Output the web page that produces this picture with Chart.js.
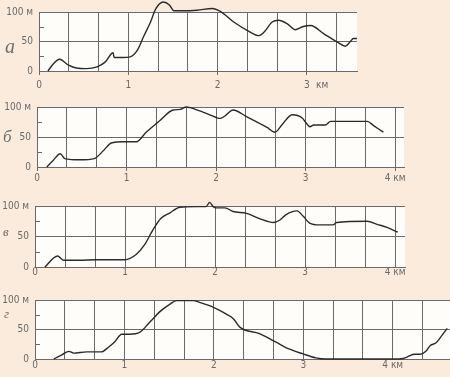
<!DOCTYPE html>
<html><head><meta charset="utf-8">
<script src="https://cdn.jsdelivr.net/npm/chart.js@4.4.1/dist/chart.umd.min.js"></script>
<style>
html,body{margin:0;padding:0;background:#fbebdd;}
#wrap{position:relative;width:450px;height:377px;overflow:hidden;background:#fbebdd;}
canvas{position:absolute;left:0;}
.lbl{position:absolute;font-family:"Liberation Serif","DejaVu Serif",serif;font-style:italic;color:#707070;line-height:1;}
</style></head><body>
<div id="wrap">
<canvas id="ca" width="450" height="95" style="top:0px"></canvas>
<canvas id="cb" width="450" height="95" style="top:95px"></canvas>
<canvas id="cc" width="450" height="95" style="top:190px"></canvas>
<canvas id="cd" width="450" height="92" style="top:285px"></canvas>
<div class="lbl" style="left:5px;top:36px;font-size:20px">а</div>
<div class="lbl" style="left:3px;top:128px;font-size:17px">б</div>
<div class="lbl" style="left:3px;top:225px;font-size:13px">в</div>
<div class="lbl" style="left:4px;top:307px;font-size:13px">г</div>
</div>
<script>
// ---- data: distance (km) and elevation (m) for each profile ----
const distA = [0.10,0.16,0.23,0.33,0.42,0.53,0.65,0.74,0.83,0.84,0.93,1.02,1.10,1.17,1.24,1.31,1.39,1.46,1.51,1.61,1.77,1.94,2.03,2.18,2.33,2.46,2.52,2.61,2.68,2.78,2.87,2.95,3.04,3.19,3.34,3.43,3.48,3.52,3.56];
const elevA = [0,12,20,10,5,4,7,15,31,23,23,24,35,58,80,106,117,112,102,102,103,106,101,83,69,60,66,83,86,80,70,75,77,63,49,42,49,55,55];

const distB = [0.11,0.18,0.26,0.31,0.48,0.64,0.74,0.83,0.96,1.11,1.22,1.37,1.52,1.60,1.67,1.71,1.86,1.93,2.01,2.05,2.10,2.19,2.34,2.57,2.66,2.74,2.85,2.96,3.02,3.05,3.09,3.22,3.28,3.69,3.76,3.87];
const elevB = [0,11,22,14,12,14,27,40,42,42,58,77,95,96,100,99,91,87,82,81,85,95,84,66,58,71,87,82,71,67,70,70,76,76,69,58];

const distC = [0.11,0.25,0.32,0.49,0.68,0.86,1.00,1.12,1.22,1.31,1.40,1.49,1.61,1.79,1.90,1.94,1.98,2.01,2.11,2.20,2.35,2.50,2.65,2.72,2.79,2.91,2.98,3.05,3.16,3.31,3.35,3.69,3.80,3.91,4.03];
const elevC = [0,18,11,11,12,12,12,20,37,61,80,88,98,99,99,106,99,97,97,91,88,79,73,77,86,92,83,72,69,69,73,75,70,65,57];

const distD = [0.21,0.30,0.38,0.43,0.58,0.74,0.82,0.89,0.97,1.06,1.17,1.28,1.41,1.51,1.58,1.77,1.84,1.99,2.14,2.22,2.29,2.51,2.69,2.84,2.99,3.14,3.25,4.07,4.14,4.24,4.31,4.37,4.42,4.48,4.55,4.61];
const elevD = [0,7,13,10,12,12,20,29,42,42,45,62,82,93,99,99,96,88,76,68,54,43,29,17,9,2,0,0,2,8,8,13,23,27,40,52];

// ---- tick labels ----
const kmLabelsA = ['0','1','2','3'];
const kmLabelsB = ['0','1','2','3','4 км'];
const kmLabelsC = ['0','1','2','3','4 км'];
const kmLabelsD = ['0','1','2','3','4 км'];
const unitLabelA = 'км';
const elevTicks = [0,25,50,75,100];
const elevLabels = {0:'0',50:'50',100:'100 м'};

const GRID = '#6a6a6a';
const TXT = '#6a6a6a';
const FONT = '"Liberation Sans Narrow","DejaVu Sans Condensed","Liberation Sans",sans-serif';
const isInt = v => Math.abs(v - Math.round(v)) < 1e-6;

const paperPlugin = {
  id:'paper',
  beforeDraw(chart){
    const a = chart.chartArea, c = chart.ctx;
    c.save(); c.fillStyle = '#fffdfa'; c.fillRect(a.left, a.top, a.right-a.left, a.bottom-a.top); c.restore();
  },
  afterDraw(chart){
    const y = chart.scales.y, c = chart.ctx, l = chart.chartArea.left;
    c.save(); c.strokeStyle = GRID; c.lineWidth = 1;
    [25,75].forEach(v => { const p = Math.round(y.getPixelForValue(v)) + 0.5; c.beginPath(); c.moveTo(l, p); c.lineTo(l + 5, p); c.stroke(); });
    c.restore();
  }
};

function makePanel(id, dist, elev, labels, cfg){
  const pts = dist.map((d,i) => ({x:d, y:elev[i]}));
  const gridMax = Math.floor(cfg.xMax * 3 + 1e-6);
  const xt = [];
  for (let i = 0; i <= gridMax; i++) xt.push({value: i/3, kind:'grid'});
  if (cfg.unitAt !== undefined) { xt.push({value: cfg.unitAt, kind:'unit'}); xt.sort((a,b)=>a.value-b.value); }
  new Chart(document.getElementById(id), {
    type:'line',
    data:{datasets:[{data:pts, borderColor:'#2b2b2b', borderWidth:1.4, pointRadius:0, cubicInterpolationMode:'monotone', clip:false, fill:false}]},
    options:{
      responsive:false, animation:false, devicePixelRatio:1,
      layout:{padding:{top:cfg.padTop, right:cfg.padRight, left:0, bottom:0}},
      plugins:{legend:{display:false}, tooltip:{enabled:false}},
      scales:{
        x:{type:'linear', min:0, max:cfg.xMax,
          afterBuildTicks: s => { s.ticks = xt.map(t => ({value:t.value})); },
          afterFit: s => { s.height = cfg.xH; },
          grid:{
            color: c => { const t = xt[c.index]; return (t && t.kind === 'grid') ? GRID : 'rgba(0,0,0,0)'; },
            tickColor: c => { const t = xt[c.index]; return (t && t.kind === 'grid' && isInt(t.value)) ? GRID : 'rgba(0,0,0,0)'; },
            drawTicks: cfg.tickLen > 0, tickLength: cfg.tickLen, lineWidth:1
          },
          border:{color:GRID, width:1},
          ticks:{autoSkip:false, maxRotation:0, minRotation:0, padding:cfg.xPad, color:TXT, font:{family:FONT, size:10},
            callback: (v, i) => { const t = xt[i]; if (!t) return ''; if (t.kind === 'unit') return unitLabelA; return isInt(t.value) ? (labels[Math.round(t.value)] || '') : ''; }
          }
        },
        y:{min:0, max:100,
          afterBuildTicks: s => { s.ticks = elevTicks.map(v => ({value:v})); },
          afterFit: s => { s.width = cfg.yW; },
          grid:{color: c => (c.tick && c.tick.value % 50 === 0) ? GRID : 'rgba(0,0,0,0)', drawTicks:false, lineWidth:1},
          border:{color:GRID, width:1},
          ticks:{padding:6, color:TXT, font:{family:FONT, size:10}, callback: v => (elevLabels[v] !== undefined ? elevLabels[v] : '')}
        }
      }
    },
    plugins:[paperPlugin]
  });
}

makePanel('ca', distA, elevA, kmLabelsA, {xMax:3.56, padTop:12, padRight:93, xH:24, yW:39, tickLen:4, xPad:4, unitAt:3.17});
makePanel('cb', distB, elevB, kmLabelsB, {xMax:4.10, padTop:11, padRight:46, xH:23, yW:37, tickLen:4, xPad:1});
makePanel('cc', distC, elevC, kmLabelsC, {xMax:4.11, padTop:16, padRight:45, xH:18, yW:35, tickLen:0, xPad:-1});
makePanel('cd', distD, elevD, kmLabelsD, {xMax:4.64, padTop:15, padRight:0, xH:18, yW:35, tickLen:0, xPad:0});
</script>
</body></html>
